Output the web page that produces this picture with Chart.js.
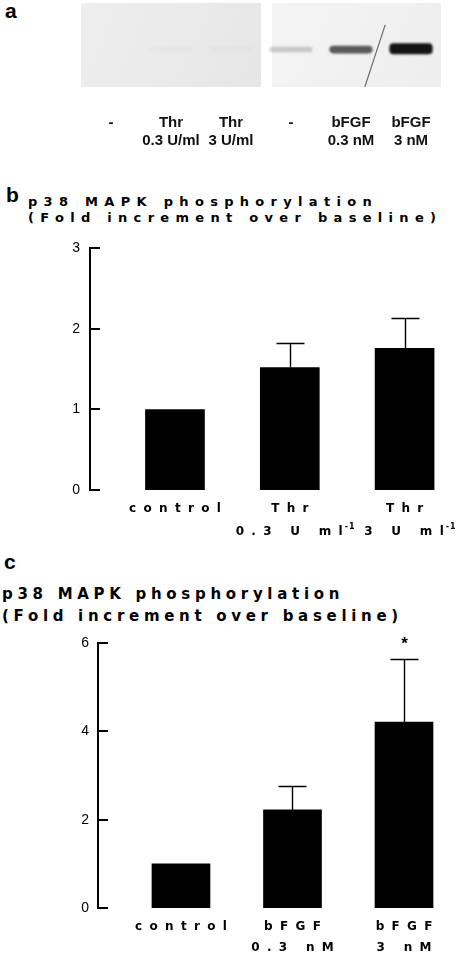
<!DOCTYPE html>
<html>
<head>
<meta charset="utf-8">
<script src="https://cdn.jsdelivr.net/npm/chart.js@4.4.1/dist/chart.umd.min.js"></script>
<style>
  html, body { margin: 0; padding: 0; background: #fff; }
  body { width: 466px; height: 957px; position: relative; overflow: hidden; font-family: "Liberation Sans", Arial, sans-serif; color: #000; }
  .letter { position: absolute; font-weight: bold; font-size: 21px; line-height: 21px; }
  .ytitle { position: absolute; font-family: "DejaVu Sans", sans-serif; font-weight: bold; white-space: nowrap; }
  canvas { position: absolute; left: 0; }
</style>
</head>
<body>
<div class="letter" style="left:5px;top:0px">a</div>
<div class="letter" style="left:6px;top:184px">b</div>
<div class="ytitle" style="left:28px;top:194px;font-size:13px;line-height:16px;letter-spacing:6.3px">p38 MAPK phosphorylation<br>(Fold increment over baseline)</div>
<div class="letter" style="left:4px;top:551px">c</div>
<div class="ytitle" style="left:2px;top:583px;font-size:15px;line-height:22px;letter-spacing:4.7px">p38 MAPK phosphorylation<br>(Fold increment over baseline)</div>

<canvas id="gel" width="466" height="160" style="top:0"></canvas>
<canvas id="chartB" width="466" height="320" style="top:230px"></canvas>
<canvas id="chartC" width="466" height="332" style="top:625px"></canvas>

<script>
// --- panel a: blot lanes ---
const GEL_LANES = [['-'], ['Thr', '0.3 U/ml'], ['Thr', '3 U/ml'], ['-'], ['bFGF', '0.3 nM'], ['bFGF', '3 nM']];
const GEL_INTENSITY = [0, 0.02, 0.02, 0.18, 0.66, 0.96];     // band darkness 0..1
const GEL_BAND_TOP = [null, 0.52, 0.52, 0.52, 0.51, 0.48];   // depth in the gel, 0 = top
const GEL_BAND_BOTTOM = [null, 0.58, 0.58, 0.585, 0.6, 0.61];
const GEL_BLOTS = [[0, 2], [3, 5]];                           // lanes on each membrane
const GEL_SCRATCH = [[4.57, 0.26], [4.23, 1.0]];              // [lane, depth]

// --- panel b: thrombin ---
const B_LABELS = [['control'], ['Thr', '0.3 U ml^-1'], ['Thr', '3 U ml^-1']];
const B_POS = [1, 2, 3];
const B_MEANS = [1.0, 1.52, 1.76];
const B_ERR = [0, 0.30, 0.38];

// --- panel c: bFGF ---
const C_LABELS = [['control'], ['bFGF', '0.3 nM'], ['bFGF', '3 nM']];
const C_POS = [1, 2, 3];
const C_MEANS = [1.0, 2.22, 4.21];
const C_ERR = [0, 0.54, 1.43];
const C_SIG = ['', '', '*'];

const FONT = '"Liberation Sans", Arial, sans-serif';
const LABEL_FONT = '"DejaVu Sans", sans-serif';

// membranes, blurred bands and the scratch on the right membrane
const gelBackdrop = {
  id: 'gelBackdrop',
  beforeDatasetsDraw(chart, args, opts) {
    const { ctx, chartArea: a, scales: { x } } = chart;
    const half = (x.getPixelForValue(1) - x.getPixelForValue(0)) / 2;
    ctx.save();
    GEL_BLOTS.forEach(([from, to], i) => {
      const l = x.getPixelForValue(from) - half + (i ? opts.gap : 0);
      const r = x.getPixelForValue(to) + half;
      const g = ctx.createLinearGradient(l, a.top, r, a.bottom);
      g.addColorStop(0, opts.tones[i][0]);
      g.addColorStop(1, opts.tones[i][1]);
      ctx.fillStyle = g;
      ctx.fillRect(l, a.top, r - l, a.bottom - a.top);
    });
    ctx.restore();
    ctx.save();
    ctx.filter = 'blur(' + opts.blur + 'px)';
  },
  afterDatasetsDraw(chart, args, opts) {
    const { ctx, scales: { x, y } } = chart;
    ctx.restore();
    ctx.save();
    ctx.strokeStyle = opts.scratch;
    ctx.lineWidth = 1.2;
    ctx.beginPath();
    ctx.moveTo(x.getPixelForValue(GEL_SCRATCH[0][0]), y.getPixelForValue(GEL_SCRATCH[0][1]));
    ctx.lineTo(x.getPixelForValue(GEL_SCRATCH[1][0]), y.getPixelForValue(GEL_SCRATCH[1][1]));
    ctx.stroke();
    ctx.restore();
  }
};

new Chart(document.getElementById('gel'), {
  type: 'bar',
  data: {
    labels: GEL_LANES,
    datasets: [{
      data: GEL_BAND_TOP.map((t, i) => t === null ? null : [t, GEL_BAND_BOTTOM[i]]),
      backgroundColor: GEL_INTENSITY.map(v => 'rgba(10,10,10,' + v + ')'),
      borderRadius: 4,
      borderSkipped: false,
      barPercentage: 0.72,
      categoryPercentage: 1
    }]
  },
  options: {
    responsive: false,
    animation: false,
    layout: { padding: { left: 81, right: 25, top: 3 } },
    plugins: {
      legend: { display: false },
      tooltip: { enabled: false },
      gelBackdrop: { gap: 11, blur: 1.3, scratch: '#6e6e6e', tones: [['#eeeeee', '#e6e6e6'], ['#f4f4f4', '#eeeeee']] }
    },
    scales: {
      x: {
        grid: { display: false, drawTicks: false },
        border: { display: false },
        ticks: { color: '#111', padding: 27, maxRotation: 0, autoSkip: false, font: { family: FONT, size: 15, weight: 'bold', lineHeight: 1.2 } },
        afterFit: s => { s.height = 73; }
      },
      y: { display: false, reverse: true, min: 0, max: 1 }
    }
  },
  plugins: [gelBackdrop]
});

// inward ticks, upper error bars, significance marks and spaced category labels
const barExtras = {
  id: 'barExtras',
  afterDatasetsDraw(chart, args, o) {
    const { ctx, chartArea: a, scales: { x, y } } = chart;
    ctx.save();
    ctx.strokeStyle = '#000';
    ctx.fillStyle = '#000';
    ctx.lineWidth = 2;
    y.ticks.forEach(t => {
      const py = Math.round(y.getPixelForValue(t.value));
      ctx.beginPath();
      ctx.moveTo(a.left - 1, py);
      ctx.lineTo(a.left + o.tickLen, py);
      ctx.stroke();
    });

    ctx.lineWidth = 1.4;
    o.means.forEach((m, i) => {
      const px = Math.round(x.getPixelForValue(o.pos[i])) + 0.5;
      const top = Math.round(y.getPixelForValue(m + o.errs[i])) + 0.5;
      if (o.errs[i]) {
        ctx.beginPath();
        ctx.moveTo(px, y.getPixelForValue(m));
        ctx.lineTo(px, top);
        ctx.moveTo(px - o.cap / 2, top);
        ctx.lineTo(px + o.cap / 2, top);
        ctx.stroke();
      }
      if (o.sig && o.sig[i]) {
        ctx.font = 'bold 17px ' + FONT;
        ctx.textAlign = 'center';
        ctx.textBaseline = 'alphabetic';
        ctx.fillText(o.sig[i], px, top - 11);
      }
    });

    ctx.textBaseline = 'middle';
    ctx.textAlign = 'left';
    o.labels.forEach((lines, i) => {
      const cx = x.getPixelForValue(o.pos[i]);
      lines.forEach((line, j) => {
        const [main, sup] = line.split('^');
        const cy = a.bottom + o.labelTop + j * o.lineGap;
        ctx.font = 'bold ' + o.fontSize + 'px ' + LABEL_FONT;
        ctx.letterSpacing = o.spacing + 'px';
        const wMain = ctx.measureText(main).width;
        let wSup = 0;
        if (sup) {
          ctx.font = 'bold 8px ' + LABEL_FONT;
          ctx.letterSpacing = '1px';
          wSup = ctx.measureText(sup).width;
        }
        const lx = cx - (wMain + wSup - (sup ? 1 : o.spacing)) / 2 + (sup ? o.supShift : 0);
        ctx.font = 'bold ' + o.fontSize + 'px ' + LABEL_FONT;
        ctx.letterSpacing = o.spacing + 'px';
        ctx.fillText(main, lx, cy);
        if (sup) {
          ctx.font = 'bold 8px ' + LABEL_FONT;
          ctx.letterSpacing = '1px';
          ctx.fillText(sup, lx + wMain - o.spacing + 2, cy - 5);
        }
      });
    });
    ctx.letterSpacing = '0px';
    ctx.restore();
  }
};

function barChart(id, cfg) {
  return new Chart(document.getElementById(id), {
    type: 'bar',
    data: {
      datasets: [{
        data: cfg.pos.map((p, i) => ({ x: p, y: cfg.means[i] })),
        backgroundColor: '#000',
        barThickness: cfg.barWidth
      }]
    },
    options: {
      responsive: false,
      animation: false,
      layout: { padding: { top: cfg.padTop, right: 4 } },
      plugins: {
        legend: { display: false },
        tooltip: { enabled: false },
        barExtras: {
          pos: cfg.pos, means: cfg.means, errs: cfg.errs, sig: cfg.sig, labels: cfg.labels,
          tickLen: 10, cap: 28, fontSize: 12, spacing: 7.3, labelTop: 19, lineGap: cfg.lineGap, supShift: 8
        }
      },
      scales: {
        x: {
          type: 'linear', min: cfg.xMin, max: cfg.xMax, offset: false,
          grid: { display: false, drawTicks: false },
          border: { display: false },
          ticks: { display: false },
          afterFit: s => { s.height = cfg.xHeight; }
        },
        y: {
          min: 0, max: cfg.yMax,
          ticks: { stepSize: cfg.step, padding: cfg.tickPad, color: '#000', font: { family: FONT, size: 14 } },
          grid: { display: false, drawTicks: false },
          border: { color: '#000', width: 2 },
          afterFit: s => { s.width = cfg.axisX; }
        }
      }
    },
    plugins: [barExtras]
  });
}

barChart('chartB', {
  pos: B_POS, means: B_MEANS, errs: B_ERR, labels: B_LABELS,
  barWidth: 59, padTop: 17, xHeight: 60, axisX: 90, tickPad: 10,
  xMin: 0.26, xMax: 3.5, yMax: 3, step: 1, lineGap: 23
});

barChart('chartC', {
  pos: C_POS, means: C_MEANS, errs: C_ERR, sig: C_SIG, labels: C_LABELS,
  barWidth: 58, padTop: 18, xHeight: 49, axisX: 98, tickPad: 9,
  xMin: 0.256, xMax: 3.52, yMax: 6, step: 2, lineGap: 21
});
</script>
</body>
</html>
